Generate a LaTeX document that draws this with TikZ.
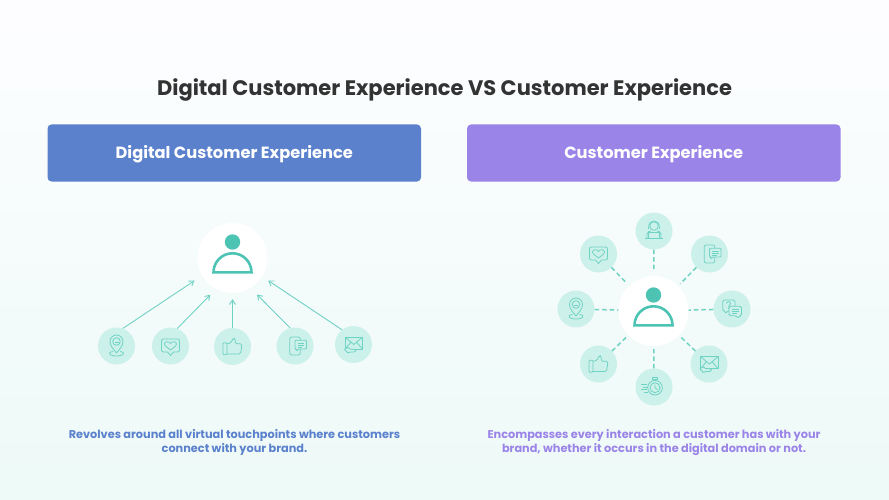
\documentclass[tikz,border=0pt]{standalone}
\usepackage{fontspec}
\setmainfont{Poppins}
\usetikzlibrary{arrows.meta}
\definecolor{tealdark}{HTML}{4DC4B3}
\definecolor{tealline}{HTML}{6FD3C3}
\definecolor{tealpale}{HTML}{CCF0EA}
\definecolor{bluebox}{HTML}{5B81CC}
\definecolor{purplebox}{HTML}{9B84E8}
\definecolor{inktitle}{HTML}{333333}

\begin{document}
\begin{tikzpicture}[
    x=1pt, y=-1pt,
    banner/.style={rounded corners=4pt, align=center, text=white, inner sep=0pt, text depth=0pt, text height=11.4pt,
                   font=\fontsize{16.25}{20}\selectfont\bfseries, minimum width=373.5pt, minimum height=57pt},
    note/.style={align=center, inner sep=0pt, font=\fontsize{11.3}{13.3}\selectfont\bfseries},
    hub/.style={circle, fill=white, inner sep=0pt, minimum size=70pt},
    spot/.style={circle, fill=tealpale, inner sep=0pt, minimum size=37pt},
    arrow/.style={-{Straight Barb[length=4.5pt,width=6pt]}, draw=tealline, line width=0.9pt},
    link/.style={draw=tealline, line width=1.5pt, dash pattern=on 4.5pt off 3pt},
    glyph/.style={draw=tealline, line width=0.8pt, line join=round},
    person/.pic={
      \fill[tealdark] (0,-16) circle[radius=7.7];
      \draw[tealdark, line width=2.6pt] (-19,14.3) arc[start angle=180, end angle=360, radius=19] -- cycle;
    },
    pin/.pic={
      \draw[glyph] (0,7) .. controls (-3,3) and (-6.5,0) .. (-6.5,-4.5)
        arc[start angle=180, end angle=360, radius=6.5] .. controls (6.5,0) and (3,3) .. (0,7);
      \draw[glyph] (0,-4.5) circle[radius=3.8];
      \draw[glyph] (-2,-4) -- (2,-4);
      \draw[glyph] (-3.5,5.5) .. controls (-10,6.5) and (-7,10) .. (0,10) .. controls (7,10) and (10,6.5) .. (3.5,5.5);
    },
    heartbox/.pic={
      \draw[glyph, rounded corners=2pt] (-3,6) -- (-9,6) -- (-9,-7) -- (9,-7) -- (9,6) -- (3,6);
      \draw[glyph] (3,6) -- (0,9.5) -- (-3,6);
      \draw[glyph] (0,4) .. controls (-3,1.5) and (-6,0) .. (-6,-2) .. controls (-6,-5) and (-1.5,-5) .. (0,-2.5)
        .. controls (1.5,-5) and (6,-5) .. (6,-2) .. controls (6,0) and (3,1.5) .. (0,4);
    },
    thumb/.pic={
      \draw[glyph, rounded corners=1pt] (-9.5,-3.7) rectangle (-5.5,8.3);
      \draw[glyph, rounded corners=1.5pt] (-5.5,-2.7) -- (-3,-2.7) -- (0,-6) -- (0.6,-8.5) -- (2.8,-8) -- (2.6,-2.7)
        -- (9.5,-2.7) -- (8,7.5) -- (-5.5,7.5);
    },
    phone/.pic={
      \draw[glyph, rounded corners=2pt] (-5.3,-9) rectangle (5.3,9);
      \draw[glyph, fill=tealpale, rounded corners=1pt] (0,-5.7) -- (11.5,-5.7) -- (11.5,3) -- (3,3) -- (1.5,5.5) -- (1.5,3) -- (0,3) -- cycle;
      \draw[glyph] (2.5,-3) -- (9,-3);
      \draw[glyph] (2.5,-1) -- (9,-1);
      \draw[glyph] (2.5,1) -- (7,1);
    },
    envelope/.pic={
      \draw[glyph] (-8.3,-7.3) rectangle (9,4.7);
      \draw[glyph] (-8.3,-7.3) -- (0.3,0) -- (9,-7.3);
      \draw[glyph] (-8.3,4.7) -- (-2.5,-2.5);
      \draw[glyph] (9,4.7) -- (3,-2.5);
      \draw[glyph, fill=tealpale, rounded corners=1pt] (-9.5,5) -- (-5,2.5) -- (-4.5,4.5) -- (3,5) -- (1.5,7.5) -- (-4,7.5) -- (-6,9) -- (-6,7.5) -- cycle;
    },
    agent/.pic={
      \draw[glyph] (0,-5) circle[radius=4.3];
      \draw[glyph] (-5.5,-4.5) arc[start angle=180, end angle=360, radius=5.5];
      \draw[glyph] (-5.5,-4.5) -- (-5.5,-2.5);
      \draw[glyph] (5.5,-4.5) -- (5.5,-2.5);
      \draw[glyph] (-7,7.5) -- (-7,3) .. controls (-7,0.5) and (-4,0) .. (-3,0);
      \draw[glyph] (7,7.5) -- (7,3) .. controls (7,0.5) and (4,0) .. (3,0);
      \draw[glyph, fill=tealpale] (-5.3,1.3) rectangle (5.3,7.3);
      \draw[glyph] (-9,7.5) -- (9,7.5);
    },
    chat/.pic={
      \draw[glyph, rounded corners=1.5pt] (-9.3,-9) -- (3,-9) -- (3,2) -- (-5,2) -- (-6.5,5) -- (-6.5,2) -- (-9.3,2) -- cycle;
      \draw[glyph] (-5.5,-5.5) .. controls (-5.5,-8) and (-1.5,-8) .. (-1.5,-5.5) .. controls (-1.5,-4) and (-3.5,-4) .. (-3.5,-2);
      \fill[tealline] (-3.5,-0.5) circle[radius=0.6];
      \draw[glyph, fill=tealpale, rounded corners=1.5pt] (-3,-2.7) -- (9.5,-2.7) -- (9.5,6.7) -- (7,6.7) -- (7,9.5) -- (4,6.7) -- (-3,6.7) -- cycle;
      \draw[glyph] (-0.5,0) -- (7,0);
      \draw[glyph] (-0.5,2) -- (7,2);
      \draw[glyph] (-0.5,4) -- (5,4);
    },
    stopwatch/.pic={
      \draw[glyph] (1,0.7) circle[radius=7.3];
      \draw[glyph] (1,0.7) circle[radius=5];
      \draw[glyph] (-1.5,-9.5) rectangle (3.5,-7.5);
      \draw[glyph] (1,-7.5) -- (1,-6.6);
      \draw[glyph] (1,-2.5) -- (1,0.7) -- (3.5,2.5);
      \draw[glyph] (-13,-2.5) -- (-7,-2.5);
      \draw[glyph] (-11,0) -- (-6.5,0);
      \draw[glyph] (-13,2.5) -- (-7,2.5);
      \draw[glyph] (-10,5) -- (-6.5,5);
    }
  ]
    % page
    \shade[top color=white!70!blue!2, bottom color=tealpale!35] (0,0) rectangle (889,500);
    \useasboundingbox (0,0) rectangle (889,500);

    \node[text=inktitle, inner sep=0pt, font=\fontsize{21}{26}\selectfont\bfseries] (title) at (444.5,90) {Digital Customer Experience VS Customer Experience};
    \node[banner, fill=bluebox] (digital) at (234.25,153) {Digital Customer Experience};
    \node[banner, fill=purplebox] (classic) at (653.75,153) {Customer Experience};
    \node[note, text=bluebox] (digitalnote) at (234.5,442.6) {Revolves around all virtual touchpoints where customers\\connect with your brand.};
    \node[note, text=purplebox] (classicnote) at (654,442.6) {Encompasses every interaction a customer has with your\\brand, whether it occurs in the digital domain or not.};

    % left group
    \node[hub] (lhub) at (232.5,258) {};
    \node[spot] (lpin) at (116.5,346) {};
    \node[spot] (lheart) at (170.5,346) {};
    \node[spot] (lthumb) at (232.5,346.5) {};
    \node[spot] (lphone) at (295,346) {};
    \node[spot] (lmail) at (353.5,344.5) {};
    \draw[arrow, shorten >=9pt] (lpin.70) -- (lhub.210);
    \draw[arrow, shorten >=8pt] (lheart.69) -- (lhub.242);
    \draw[arrow, shorten >=6pt] (lthumb.90) -- (lhub.270);
    \draw[arrow, shorten >=9pt] (lphone.105) -- (lhub.301);
    \draw[arrow, shorten >=7pt] (lmail.128) -- (lhub.328);
    \pic at (lhub) {person};
    \pic at (lpin) {pin};
    \pic at (lheart) {heartbox};
    \pic at (lthumb) {thumb};
    \pic at (lphone) {phone};
    \pic at (lmail) {envelope};

    % right group
    \node[hub] (rhub) at (653.5,311) {};
    \node[spot] (ragent) at (654,231) {};
    \node[spot] (rphone) at (709.5,254) {};
    \node[spot] (rchat) at (732,309) {};
    \node[spot] (rmail) at (709,364) {};
    \node[spot] (rwatch) at (654,387) {};
    \node[spot] (rthumb) at (598.5,364) {};
    \node[spot] (rpin) at (576,309) {};
    \node[spot] (rheart) at (598.5,254) {};
    \draw[link, shorten >=4pt] (ragent) -- (rhub);
    \draw[link, shorten >=3pt] (rphone) -- (rhub);
    \draw[link] (rchat) -- (rhub);
    \draw[link, shorten >=3pt] (rmail) -- (rhub);
    \draw[link] (rwatch) -- (rhub);
    \draw[link, shorten >=3pt] (rthumb) -- (rhub);
    \draw[link] (rpin) -- (rhub);
    \draw[link, shorten >=3pt] (rheart) -- (rhub);
    \pic at (rhub) {person};
    \pic at (ragent) {agent};
    \pic at (rphone) {phone};
    \pic at (rchat) {chat};
    \pic at (rmail) {envelope};
    \pic at (rwatch) {stopwatch};
    \pic at (rthumb) {thumb};
    \pic at (rpin) {pin};
    \pic at (rheart) {heartbox};
  \end{tikzpicture}
\end{document}
